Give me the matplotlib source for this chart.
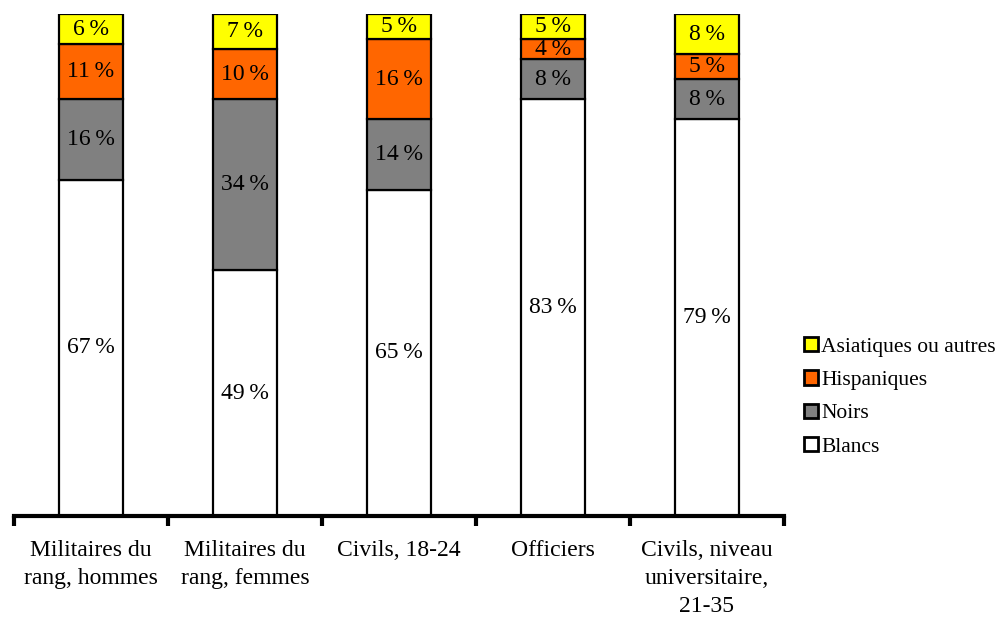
import numpy as np
import matplotlib.pyplot as plt
from matplotlib.patches import Patch

plt.rcParams['font.family'] = ['Liberation Serif', 'DejaVu Serif']

categories = ["Militaires du\nrang, hommes", "Militaires du\nrang, femmes", "Civils, 18-24",
              "Officiers", "Civils, niveau\nuniversitaire,\n21-35"]
series_names = ["Blancs", "Noirs", "Hispaniques", "Asiatiques ou autres"]
blancs = [67, 49, 65, 83, 79]
noirs = [16, 34, 14, 8, 8]
hispaniques = [11, 10, 16, 4, 5]
asiatiques = [6, 7, 5, 5, 8]
colors = ["#FFFFFF", "#808080", "#FF6600", "#FFFF00"]

fig = plt.figure(figsize=(10.01, 6.21), dpi=100)
ax = fig.add_axes([14 / 1001, 1 - 516 / 621, 770 / 1001, 502 / 621])

x = np.arange(len(categories))
bottom = np.zeros(len(categories))
for vals, col in zip([blancs, noirs, hispaniques, asiatiques], colors):
    ax.bar(x, vals, bottom=bottom, width=0.42, color=col, edgecolor='black', linewidth=1.6, zorder=2)
    for xi, b, v in zip(x, bottom, vals):
        ax.text(xi, b + v / 2, f"{v}\u2009%", ha='center', va='center',
                fontsize=17, zorder=3)
    bottom += vals

ax.set_xlim(-0.5, len(categories) - 0.5)
ax.set_ylim(0, 100)
for s in ['left', 'right', 'top']:
    ax.spines[s].set_visible(False)
ax.spines['bottom'].set_linewidth(3)
ax.set_yticks([])
ax.set_xticks(np.arange(len(categories) + 1) - 0.5)
ax.set_xticklabels([])
ax.tick_params(axis='x', direction='out', length=7, width=3)
for xi, cat in zip(x, categories):
    ax.text(xi, -4.8, cat, ha='center', va='top', fontsize=17, linespacing=1.45,
            transform=ax.transData, clip_on=False)

handles = [Patch(facecolor=c, edgecolor='black', linewidth=2, label=n)
           for n, c in zip(series_names, colors)][::-1]
fig.legend(handles=handles, loc='upper left', bbox_to_anchor=(804 / 1001, 1 - 337 / 621),
           frameon=False, fontsize=15.5, handlelength=0.65, handleheight=0.65,
           handletextpad=0.15, labelspacing=0.63, borderaxespad=0, borderpad=0)

fig.savefig("out.png", dpi=100)
